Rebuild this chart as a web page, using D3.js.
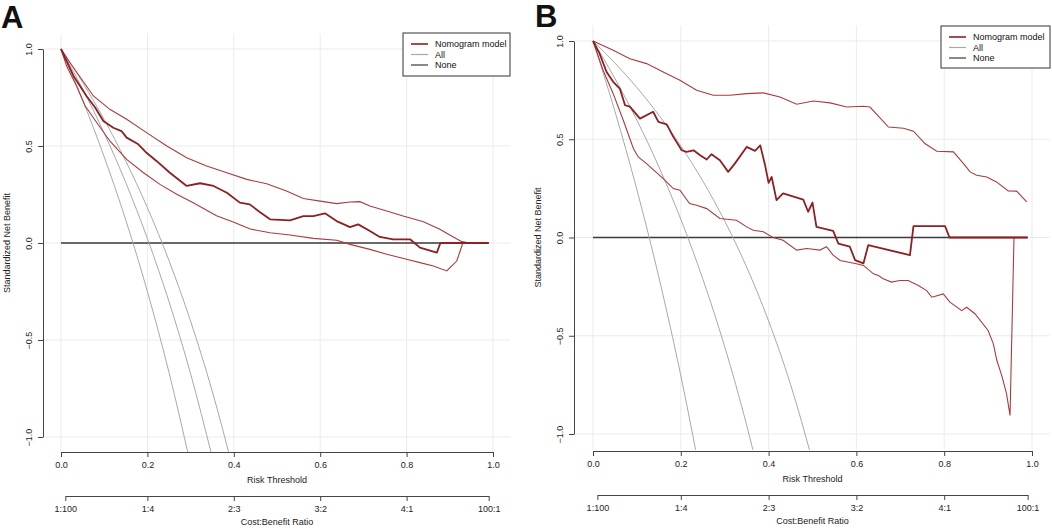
<!DOCTYPE html>
<html>
<head>
<meta charset="utf-8">
<script src="https://cdn.jsdelivr.net/npm/d3@7"></script>
<style>
  body { margin: 0; background: #fff; }
  svg { font-family: "Liberation Sans", Arial, sans-serif; }
</style>
</head>
<body>
<div id="chart"></div>
<script>
// ---- data: [threshold, standardized net benefit] ----
var aModel = [[0,1],[0.029,0.861],[0.059,0.758],[0.079,0.698],[0.098,0.629],[0.121,0.594],[0.14,0.577],
  [0.152,0.543],[0.179,0.509],[0.198,0.465],[0.221,0.423],[0.252,0.362],[0.291,0.294],[0.322,0.308],
  [0.353,0.294],[0.384,0.259],[0.414,0.208],[0.437,0.199],[0.46,0.16],[0.484,0.122],[0.53,0.117],
  [0.561,0.139],[0.584,0.139],[0.611,0.153],[0.638,0.113],[0.669,0.082],[0.688,0.096],[0.715,0.062],
  [0.738,0.031],[0.769,0.019],[0.808,0.019],[0.831,-0.024],[0.87,-0.05],[0.877,-0.007],[0.879,0],[0.99,0]];
var aUpper = [[0,1],[0.021,0.929],[0.075,0.758],[0.113,0.689],[0.152,0.638],[0.198,0.569],[0.245,0.5],
  [0.291,0.44],[0.337,0.397],[0.384,0.362],[0.43,0.328],[0.476,0.305],[0.522,0.268],[0.561,0.229],
  [0.6,0.216],[0.638,0.203],[0.669,0.211],[0.692,0.213],[0.715,0.191],[0.754,0.165],[0.792,0.139],
  [0.839,0.11],[0.877,0.071],[0.908,0.031],[0.928,0.007],[0.946,0],[0.99,0]];
var aLower = [[0,1],[0.013,0.912],[0.036,0.809],[0.056,0.706],[0.083,0.62],[0.113,0.526],[0.152,0.431],
  [0.191,0.362],[0.229,0.302],[0.268,0.251],[0.306,0.208],[0.36,0.141],[0.4,0.107],[0.438,0.072],
  [0.484,0.053],[0.53,0.041],[0.584,0.024],[0.638,0.014],[0.669,-0.007],[0.715,-0.033],[0.754,-0.058],
  [0.8,-0.084],[0.831,-0.101],[0.862,-0.119],[0.893,-0.144],[0.904,-0.119],[0.916,-0.093],
  [0.924,-0.041],[0.93,0],[0.99,0]];
var aAll1 = [[0,1],[0.05,0.737],[0.1,0.444],[0.15,0.118],[0.2,-0.25],[0.25,-0.667],[0.3,-1.143]];
var aAll2 = [[0,1],[0.05,0.794],[0.1,0.566],[0.15,0.311],[0.2,0.023],[0.25,-0.302],[0.3,-0.674],[0.35,-1.103]];
var aAll3 = [[0,1],[0.05,0.828],[0.1,0.636],[0.15,0.422],[0.2,0.182],[0.25,-0.091],[0.3,-0.403],[0.35,-0.763],[0.4,-1.182]];

var bModel = [[0,1],[0.015,0.936],[0.031,0.842],[0.046,0.792],[0.061,0.758],[0.073,0.673],[0.084,0.666],
  [0.107,0.605],[0.137,0.64],[0.149,0.588],[0.168,0.576],[0.183,0.512],[0.202,0.444],[0.213,0.436],
  [0.229,0.444],[0.244,0.419],[0.259,0.397],[0.27,0.424],[0.289,0.393],[0.308,0.334],[0.323,0.376],
  [0.35,0.461],[0.369,0.441],[0.381,0.469],[0.392,0.368],[0.4,0.278],[0.407,0.308],[0.418,0.19],
  [0.433,0.224],[0.479,0.193],[0.49,0.131],[0.5,0.178],[0.509,0.054],[0.547,0.034],[0.559,-0.031],
  [0.585,-0.047],[0.597,-0.115],[0.616,-0.132],[0.627,-0.039],[0.722,-0.09],[0.73,0.058],
  [0.802,0.058],[0.812,0],[0.99,0]];
var bUpper = [[0,1],[0.046,0.953],[0.084,0.91],[0.122,0.885],[0.16,0.842],[0.198,0.8],[0.236,0.749],
  [0.274,0.724],[0.312,0.724],[0.35,0.732],[0.388,0.736],[0.426,0.715],[0.464,0.678],[0.502,0.695],
  [0.54,0.685],[0.578,0.664],[0.616,0.668],[0.631,0.664],[0.673,0.562],[0.707,0.556],[0.73,0.541],
  [0.756,0.478],[0.783,0.439],[0.821,0.436],[0.844,0.376],[0.859,0.334],[0.874,0.317],[0.897,0.308],
  [0.919,0.283],[0.946,0.237],[0.965,0.236],[0.988,0.181]];
var bLower = [[0,1],[0.023,0.851],[0.046,0.732],[0.069,0.597],[0.092,0.453],[0.103,0.41],[0.122,0.376],
  [0.16,0.3],[0.183,0.249],[0.198,0.241],[0.22,0.173],[0.236,0.164],[0.259,0.147],[0.289,0.097],
  [0.327,0.088],[0.35,0.054],[0.365,0.037],[0.388,0.029],[0.41,0],[0.433,-0.014],[0.464,-0.064],
  [0.487,-0.056],[0.517,-0.064],[0.532,-0.047],[0.547,-0.09],[0.563,-0.117],[0.6,-0.134],
  [0.616,-0.142],[0.639,-0.185],[0.65,-0.193],[0.661,-0.21],[0.68,-0.227],[0.699,-0.219],
  [0.718,-0.219],[0.741,-0.244],[0.76,-0.27],[0.772,-0.304],[0.798,-0.287],[0.813,-0.329],
  [0.84,-0.372],[0.851,-0.355],[0.87,-0.388],[0.9,-0.473],[0.912,-0.541],[0.92,-0.626],
  [0.931,-0.702],[0.942,-0.795],[0.95,-0.906],[0.959,0],[0.99,0]];
var bAll1 = [[0,1],[0.05,0.642],[0.1,0.243],[0.15,-0.202],[0.2,-0.703],[0.25,-1.27]];
var bAll2 = [[0,1],[0.05,0.809],[0.1,0.597],[0.15,0.36],[0.2,0.093],[0.25,-0.21],[0.3,-0.556],[0.35,-0.955],[0.4,-1.42]];
var bAll3 = [[0,1],[0.05,0.888],[0.1,0.763],[0.15,0.623],[0.2,0.466],[0.25,0.288],[0.3,0.084],[0.35,-0.151],[0.4,-0.425],[0.45,-0.748],[0.5,-1.137]];

var noneLine = [[0,0],[0.99,0]];

var riskTicks = [0, 0.2, 0.4, 0.6, 0.8, 1.0];
var costTicks = [0.01, 0.2, 0.4, 0.6, 0.8, 0.99];
var costLabels = ['1:100', '1:4', '2:3', '3:2', '4:1', '100:1'];
var netTicks = [-1.0, -0.5, 0.0, 0.5, 1.0];
var legendLabels = ['Nomogram model', 'All', 'None'];

var W = 1052, H = 530;
var modelColor = '#8e1f22', ciColor = '#ad3a3c', allColor = '#a8a8a8', noneColor = '#3a3a3a', axisColor = '#444';

var svg = d3.select('#chart').append('svg').attr('width', W).attr('height', H);

function drawPanel(cfg) {
    var x = d3.scaleLinear().domain([0, 1]).range([cfg.x0, cfg.x1]);
    var y = d3.scaleLinear().domain([-1, 1]).range([cfg.yBot, cfg.yTop]);
    var g = svg.append('g');

    // clip to plot region (R pads the range by 4%)
    g.append('clipPath').attr('id', 'clip' + cfg.letter)
     .append('rect')
     .attr('x', x(-0.04)).attr('y', y(1.08))
     .attr('width', x(1.04) - x(-0.04)).attr('height', y(-1.08) - y(1.08));

    //grid
    g.selectAll('.vgrid').data(riskTicks).enter().append('line')
     .attr('x1', d => x(d)).attr('x2', d => x(d))
     .attr('y1', y(1.08)).attr('y2', y(-1.08))
     .style('stroke', '#ebebeb').style('stroke-width', 1);
    g.selectAll('.hgrid').data(netTicks).enter().append('line')
     .attr('x1', cfg.yAxisX).attr('x2', x(1.04))
     .attr('y1', d => y(d)).attr('y2', d => y(d))
     .style('stroke', '#ebebeb').style('stroke-width', 1);

    var line = d3.line().x(d => x(d[0])).y(d => y(d[1]));
    var smooth = d3.line().x(d => x(d[0])).y(d => y(d[1])).curve(d3.curveMonotoneX);
    var plot = g.append('g').attr('clip-path', 'url(#clip' + cfg.letter + ')');

    plot.append('path').datum(noneLine).attr('d', line)
        .style('fill', 'none').style('stroke', noneColor).style('stroke-width', 1.3);
    cfg.all.forEach(function(s) {
        plot.append('path').datum(s).attr('d', smooth)
            .style('fill', 'none').style('stroke', allColor).style('stroke-width', 1);
    });
    [cfg.upper, cfg.lower].forEach(function(s) {
        plot.append('path').datum(s).attr('d', line)
            .style('fill', 'none').style('stroke', ciColor).style('stroke-width', 1.1);
    });
    plot.append('path').datum(cfg.model).attr('d', line)
        .style('fill', 'none').style('stroke', modelColor).style('stroke-width', 1.8)
        .style('stroke-linejoin', 'round');

    //axes
    function styleAxis(a) {
        a.select('.domain').style('stroke', axisColor);
        a.selectAll('.tick line').style('stroke', axisColor);
        a.selectAll('text').style('font-size', '9px').style('fill', '#222').style('font-family', null);
    }

    var xa = g.append('g').attr('transform', 'translate(0,' + cfg.xAxisY + ')')
              .call(d3.axisBottom(x).tickValues(riskTicks).tickFormat(d3.format('.1f'))
                    .tickSize(5).tickSizeOuter(0).tickPadding(5));
    styleAxis(xa);

    var xc = d3.scaleLinear().domain([0.01, 0.99]).range([x(0.01), x(0.99)]);
    var ca = g.append('g').attr('transform', 'translate(0,' + cfg.cbAxisY + ')')
              .call(d3.axisBottom(xc).tickValues(costTicks).tickFormat((d, i) => costLabels[i])
                    .tickSize(5).tickSizeOuter(0).tickPadding(5));
    styleAxis(ca);

    var ya = g.append('g').attr('transform', 'translate(' + cfg.yAxisX + ',0)')
              .call(d3.axisLeft(y).tickValues(netTicks).tickFormat(d3.format('.1f'))
                    .tickSize(5).tickSizeOuter(0));
    styleAxis(ya);
    ya.selectAll('text')
      .attr('x', 0).attr('y', 0).attr('dy', 0)
      .attr('text-anchor', 'middle')
      .attr('transform', 'translate(-11.5,0) rotate(-90)')
      .text(d => d3.format('.1f')(d).replace('-', '\u2212'));

    //titles
    g.append('text').attr('x', (x(0) + x(1)) / 2).attr('y', cfg.xAxisY + 31)
     .attr('text-anchor', 'middle').style('font-size', '9px').style('fill', '#222')
     .text('Risk Threshold');
    g.append('text').attr('x', (x(0) + x(1)) / 2).attr('y', cfg.cbAxisY + 29)
     .attr('text-anchor', 'middle').style('font-size', '9px').style('fill', '#222')
     .text('Cost:Benefit Ratio');
    g.append('text')
     .attr('transform', 'translate(' + (cfg.yAxisX - 33.5) + ',' + y(0) + ') rotate(-90)')
     .attr('text-anchor', 'middle').style('font-size', '9px').style('fill', '#222')
     .text('Standardized Net Benefit');

    g.append('text').attr('x', cfg.letterX).attr('y', cfg.letterY)
     .style('font-size', '31px').style('font-weight', 'bold').style('fill', '#111')
     .text(cfg.letter);

    //legend
    var lg = g.append('g').attr('transform', 'translate(' + cfg.legend.x + ',' + cfg.legend.y + ')');
    lg.append('rect').attr('width', cfg.legend.w).attr('height', cfg.legend.h)
      .style('fill', '#fff').style('stroke', '#333').style('stroke-width', 1);
    var legColors = [modelColor, allColor, noneColor];
    legendLabels.forEach(function(lab, i) {
        var ry = 11 + i * 10.5;
        lg.append('line').attr('x1', 8).attr('x2', 25).attr('y1', ry).attr('y2', ry)
          .style('stroke', legColors[i]).style('stroke-width', i === 0 ? 1.6 : 1.2);
        lg.append('text').attr('x', 32).attr('y', ry).attr('dy', '0.35em')
          .style('font-size', '9px').style('fill', '#111').text(lab);
    });
}

drawPanel({letter: 'A', x0: 61, x1: 493, yTop: 49, yBot: 437, yAxisX: 43, xAxisY: 452, cbAxisY: 496,
           letterX: 1, letterY: 28, legend: {x: 403, y: 33, w: 107, h: 43},
           model: aModel, upper: aUpper, lower: aLower, all: [aAll1, aAll2, aAll3]});
drawPanel({letter: 'B', x0: 593, x1: 1032, yTop: 41, yBot: 434, yAxisX: 574, xAxisY: 451, cbAxisY: 495,
           letterX: 535, letterY: 27, legend: {x: 941, y: 26, w: 109, h: 42},
           model: bModel, upper: bUpper, lower: bLower, all: [bAll1, bAll2, bAll3]});
</script>
</body>
</html>
